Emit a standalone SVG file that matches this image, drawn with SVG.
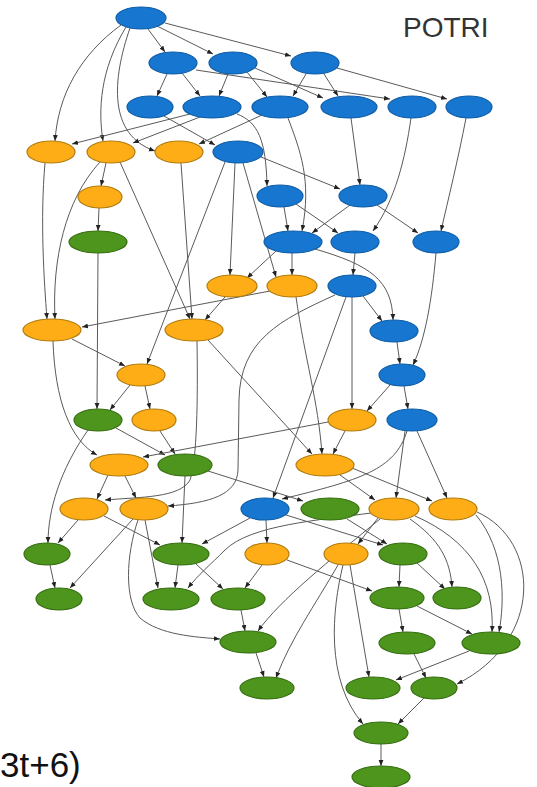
<svg xmlns="http://www.w3.org/2000/svg" width="537" height="787" viewBox="0 0 537 787">
<style>
.e{fill:none;stroke:#5a5a5a;stroke-width:1;marker-end:url(#a)}
.b{fill:#1776cf;stroke:#105ea6;stroke-width:1.2}
.o{fill:#ffad16;stroke:#b07d10;stroke-width:1.2}
.g{fill:#4d951c;stroke:#376f12;stroke-width:1.2}
.t{font-family:"Liberation Sans",Arial,sans-serif}
</style>
<defs>
<marker id="a" viewBox="0 0 10 10" refX="10" refY="5" markerWidth="6" markerHeight="6" orient="auto"><path d="M0,1 L10,5 L0,9z" fill="#222"/></marker>
</defs>
<rect width="537" height="787" fill="#fff"/>
<g id="edges">
<path class="e" d="M148,29 L165,52"/>
<path class="e" d="M157,26 L213,54"/>
<path class="e" d="M165,23 L291,56"/>
<path class="e" d="M121,25 C80,55 58,95 55,141"/>
<path class="e" d="M126,27 C100,70 98,110 103,141"/>
<path class="e" d="M130,28 C112,80 108,135 155,151"/>
<path class="e" d="M167,74 L157,96"/>
<path class="e" d="M182,73 L200,96"/>
<path class="e" d="M228,74 L219,96"/>
<path class="e" d="M247,72 L267,97"/>
<path class="e" d="M306,74 L293,96"/>
<path class="e" d="M324,74 L338,96"/>
<path class="e" d="M255,68 L323,98"/>
<path class="e" d="M196,70 L390,99"/>
<path class="e" d="M337,68 L447,99"/>
<path class="e" d="M164,116 L215,145"/>
<path class="e" d="M190,114 L72,144"/>
<path class="e" d="M200,117 L133,143"/>
<path class="e" d="M262,115 L199,144"/>
<path class="e" d="M237,114 C258,122 266,140 267,186"/>
<path class="e" d="M261,157 L340,189"/>
<path class="e" d="M288,118 C300,150 312,180 302,231"/>
<path class="e" d="M351,118 L360,185"/>
<path class="e" d="M411,118 C405,160 395,200 373,231"/>
<path class="e" d="M466,118 C458,160 448,200 441,231"/>
<path class="e" d="M284,207 L288,231"/>
<path class="e" d="M296,204 L338,233"/>
<path class="e" d="M350,205 L312,233"/>
<path class="e" d="M377,205 L418,233"/>
<path class="e" d="M235,163 L230,275"/>
<path class="e" d="M243,163 L276,277"/>
<path class="e" d="M225,162 L147,364"/>
<path class="e" d="M45,163 C40,220 44,280 47,319"/>
<path class="e" d="M100,162 C65,200 52,260 55,319"/>
<path class="e" d="M106,163 L101,186"/>
<path class="e" d="M120,162 L190,319"/>
<path class="e" d="M181,163 L192,319"/>
<path class="e" d="M99,208 L98,231"/>
<path class="e" d="M98,253 L97,409"/>
<path class="e" d="M276,251 L247,278"/>
<path class="e" d="M292,253 L292,275"/>
<path class="e" d="M315,249 C370,265 392,280 393,320"/>
<path class="e" d="M355,253 L353,275"/>
<path class="e" d="M436,253 C432,300 425,340 413,365"/>
<path class="e" d="M225,297 L205,320"/>
<path class="e" d="M270,291 L82,327"/>
<path class="e" d="M296,297 C305,360 318,400 322,454"/>
<path class="e" d="M363,296 L382,321"/>
<path class="e" d="M352,297 L352,409"/>
<path class="e" d="M346,297 L273,498"/>
<path class="e" d="M335,295 C280,320 240,340 239,400 L238,470 C237,495 210,503 168,506"/>
<path class="e" d="M397,342 L400,364"/>
<path class="e" d="M72,339 L125,366"/>
<path class="e" d="M53,341 C55,400 70,440 97,455"/>
<path class="e" d="M208,340 L312,454"/>
<path class="e" d="M197,341 C198,400 197,460 190,480 C180,498 140,497 105,500"/>
<path class="e" d="M390,385 L367,411"/>
<path class="e" d="M404,386 L408,409"/>
<path class="e" d="M130,385 L110,410"/>
<path class="e" d="M145,386 L150,409"/>
<path class="e" d="M116,428 L165,455"/>
<path class="e" d="M160,431 L175,454"/>
<path class="e" d="M88,430 C60,470 48,510 48,543"/>
<path class="e" d="M328,422 L143,457"/>
<path class="e" d="M345,431 L333,454"/>
<path class="e" d="M405,431 L396,498"/>
<path class="e" d="M417,431 L447,498"/>
<path class="e" d="M407,431 C395,470 360,480 282,499"/>
<path class="e" d="M108,475 L97,499"/>
<path class="e" d="M125,476 L136,498"/>
<path class="e" d="M208,471 L303,501"/>
<path class="e" d="M185,476 L182,543"/>
<path class="e" d="M340,475 L375,500"/>
<path class="e" d="M352,468 L432,501"/>
<path class="e" d="M250,518 L202,544"/>
<path class="e" d="M266,520 L267,543"/>
<path class="e" d="M286,515 L383,545"/>
<path class="e" d="M347,519 L387,544"/>
<path class="e" d="M78,520 L58,543"/>
<path class="e" d="M104,516 L160,545"/>
<path class="e" d="M133,519 L70,588"/>
<path class="e" d="M145,520 L158,588"/>
<path class="e" d="M138,520 C126,555 124,600 140,618 C160,635 195,637 220,639"/>
<path class="e" d="M378,518 L358,544"/>
<path class="e" d="M371,513 C320,520 250,525 225,550 C210,565 198,575 188,588"/>
<path class="e" d="M380,519 C330,560 280,600 258,631"/>
<path class="e" d="M338,565 C315,605 290,640 276,678"/>
<path class="e" d="M350,565 L369,677"/>
<path class="e" d="M343,565 C332,610 325,680 363,724"/>
<path class="e" d="M410,519 C440,540 450,560 452,587"/>
<path class="e" d="M415,516 C470,540 495,580 492,632"/>
<path class="e" d="M476,515 C505,550 505,600 499,632"/>
<path class="e" d="M477,512 C540,540 545,640 457,684"/>
<path class="e" d="M262,565 L245,588"/>
<path class="e" d="M287,560 L372,591"/>
<path class="e" d="M50,565 L55,588"/>
<path class="e" d="M178,565 L175,588"/>
<path class="e" d="M196,564 L223,589"/>
<path class="e" d="M400,565 L399,587"/>
<path class="e" d="M417,563 L445,589"/>
<path class="e" d="M241,610 L245,631"/>
<path class="e" d="M399,609 L403,632"/>
<path class="e" d="M417,606 L472,634"/>
<path class="e" d="M256,653 L264,677"/>
<path class="e" d="M414,654 L426,678"/>
<path class="e" d="M469,651 L396,680"/>
<path class="e" d="M424,698 L398,724"/>
<path class="e" d="M381,744 L381,766"/>
</g>
<g id="B1"><ellipse class="b" cx="141" cy="18" rx="25" ry="11"/></g>
<g id="B2a"><ellipse class="b" cx="173" cy="63" rx="24" ry="11"/></g>
<g id="B2b"><ellipse class="b" cx="233" cy="63" rx="24" ry="11"/></g>
<g id="B2c"><ellipse class="b" cx="315" cy="63" rx="24" ry="11"/></g>
<g id="B3a"><ellipse class="b" cx="150" cy="107" rx="23" ry="11"/></g>
<g id="B3b"><ellipse class="b" cx="212" cy="107" rx="29" ry="11"/></g>
<g id="B3c"><ellipse class="b" cx="280" cy="107" rx="28" ry="11"/></g>
<g id="B3d"><ellipse class="b" cx="349" cy="107" rx="28" ry="11"/></g>
<g id="B3e"><ellipse class="b" cx="412" cy="107" rx="24" ry="11"/></g>
<g id="B3f"><ellipse class="b" cx="469" cy="107" rx="23" ry="11"/></g>
<g id="O4a"><ellipse class="o" cx="51" cy="152" rx="24" ry="11"/></g>
<g id="O4b"><ellipse class="o" cx="111" cy="152" rx="24" ry="11"/></g>
<g id="O4c"><ellipse class="o" cx="179" cy="152" rx="24" ry="11"/></g>
<g id="B4d"><ellipse class="b" cx="238" cy="152" rx="25" ry="11"/></g>
<g id="O5"><ellipse class="o" cx="100" cy="197" rx="22" ry="11"/></g>
<g id="B5a"><ellipse class="b" cx="280" cy="196" rx="23" ry="11"/></g>
<g id="B5b"><ellipse class="b" cx="363" cy="196" rx="24" ry="11"/></g>
<g id="G6"><ellipse class="g" cx="98" cy="242" rx="29" ry="11"/></g>
<g id="B6a"><ellipse class="b" cx="293" cy="242" rx="29" ry="11"/></g>
<g id="B6b"><ellipse class="b" cx="355" cy="242" rx="24" ry="11"/></g>
<g id="B6c"><ellipse class="b" cx="436" cy="242" rx="23" ry="11"/></g>
<g id="O7a"><ellipse class="o" cx="232" cy="286" rx="25" ry="11"/></g>
<g id="O7b"><ellipse class="o" cx="292" cy="286" rx="25" ry="11"/></g>
<g id="B7c"><ellipse class="b" cx="352" cy="286" rx="24" ry="11"/></g>
<g id="O8a"><ellipse class="o" cx="52" cy="330" rx="29" ry="11"/></g>
<g id="O8b"><ellipse class="o" cx="194" cy="330" rx="29" ry="11"/></g>
<g id="B8c"><ellipse class="b" cx="394" cy="331" rx="24" ry="11"/></g>
<g id="O9"><ellipse class="o" cx="141" cy="375" rx="24" ry="11"/></g>
<g id="B9"><ellipse class="b" cx="402" cy="375" rx="23" ry="11"/></g>
<g id="G10a"><ellipse class="g" cx="98" cy="420" rx="24" ry="11"/></g>
<g id="O10b"><ellipse class="o" cx="154" cy="420" rx="22" ry="11"/></g>
<g id="O10c"><ellipse class="o" cx="352" cy="420" rx="24" ry="11"/></g>
<g id="B10d"><ellipse class="b" cx="412" cy="420" rx="25" ry="11"/></g>
<g id="O11a"><ellipse class="o" cx="119" cy="465" rx="29" ry="11"/></g>
<g id="G11b"><ellipse class="g" cx="185" cy="465" rx="27" ry="11"/></g>
<g id="O11c"><ellipse class="o" cx="325" cy="465" rx="29" ry="11"/></g>
<g id="O12a"><ellipse class="o" cx="84" cy="509" rx="24" ry="11"/></g>
<g id="O12b"><ellipse class="o" cx="144" cy="509" rx="24" ry="11"/></g>
<g id="B12c"><ellipse class="b" cx="265" cy="509" rx="24" ry="11"/></g>
<g id="G12d"><ellipse class="g" cx="330" cy="509" rx="29" ry="11"/></g>
<g id="O12e"><ellipse class="o" cx="394" cy="509" rx="25" ry="11"/></g>
<g id="O12f"><ellipse class="o" cx="453" cy="509" rx="24" ry="11"/></g>
<g id="G13a"><ellipse class="g" cx="47" cy="554" rx="23" ry="11"/></g>
<g id="G13b"><ellipse class="g" cx="181" cy="554" rx="28" ry="11"/></g>
<g id="O13c"><ellipse class="o" cx="267" cy="554" rx="22" ry="11"/></g>
<g id="O13d"><ellipse class="o" cx="346" cy="554" rx="22" ry="11"/></g>
<g id="G13e"><ellipse class="g" cx="403" cy="554" rx="24" ry="11"/></g>
<g id="G14a"><ellipse class="g" cx="59" cy="599" rx="23" ry="11"/></g>
<g id="G14b"><ellipse class="g" cx="171" cy="599" rx="28" ry="11"/></g>
<g id="G14c"><ellipse class="g" cx="238" cy="599" rx="27" ry="11"/></g>
<g id="G14d"><ellipse class="g" cx="397" cy="598" rx="27" ry="11"/></g>
<g id="G14e"><ellipse class="g" cx="457" cy="598" rx="24" ry="11"/></g>
<g id="G15a"><ellipse class="g" cx="248" cy="642" rx="28" ry="11"/></g>
<g id="G15b"><ellipse class="g" cx="407" cy="643" rx="28" ry="11"/></g>
<g id="G15c"><ellipse class="g" cx="491" cy="643" rx="29" ry="11"/></g>
<g id="G16a"><ellipse class="g" cx="267" cy="688" rx="27" ry="11"/></g>
<g id="G16b"><ellipse class="g" cx="373" cy="688" rx="27" ry="11"/></g>
<g id="G16c"><ellipse class="g" cx="434" cy="688" rx="23" ry="11"/></g>
<g id="G17"><ellipse class="g" cx="381" cy="733" rx="27" ry="11"/></g>
<g id="G18"><ellipse class="g" cx="381" cy="777" rx="29" ry="11"/></g>
<text class="t" x="403" y="37" font-size="28" fill="#333">POTRI</text>
<text class="t" x="0" y="777" font-size="35" fill="#111">3t+6)</text>
</svg>
